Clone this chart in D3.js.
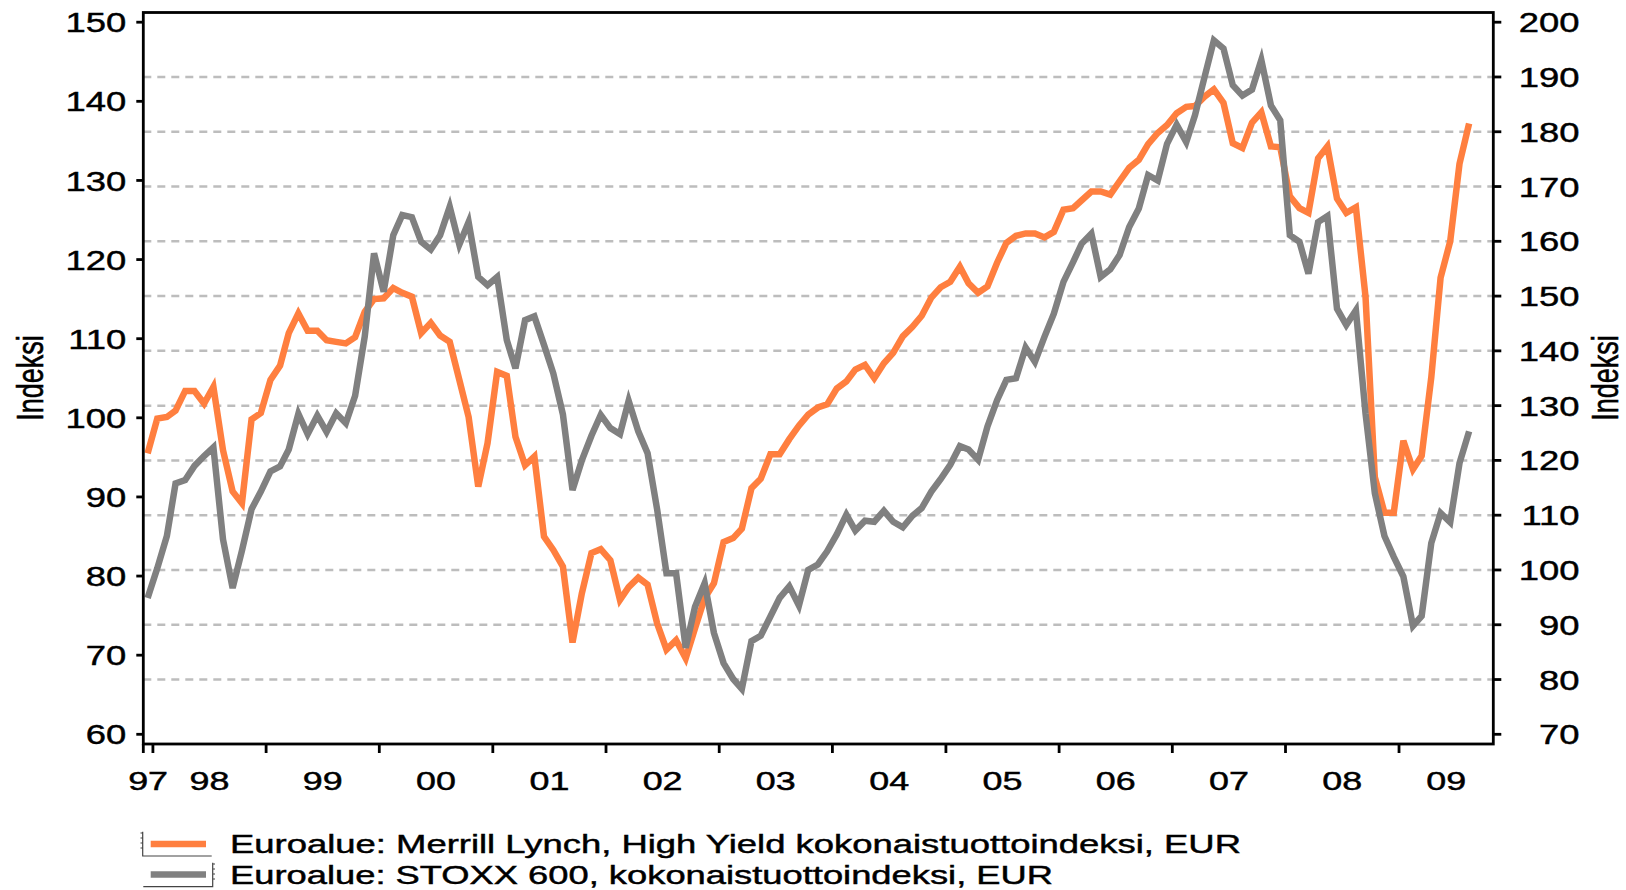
<!DOCTYPE html>
<html>
<head>
<meta charset="utf-8">
<style>
  body { margin: 0; background: #fff; }
  text { font-family: "Liberation Sans", Arial, sans-serif; fill: #000; stroke: #000; stroke-width: 0.45; }
  .grid line { stroke: #bdbdbd; stroke-width: 2.5; stroke-dasharray: 8,6; }
  .frame { fill: none; stroke: #000; stroke-width: 2.8; }
  .tick-mark { stroke: #000; stroke-width: 2.8; }
  .hy { fill: none; stroke: #ff7f3f; stroke-width: 6.5; }
  .stoxx { fill: none; stroke: #808080; stroke-width: 6.5; }
  .icon { stroke: #444; stroke-width: 1.2; fill: none; }
</style>
</head>
<body>
<script src="https://d3js.org/d3.v7.min.js"></script>
<div id="chart"></div>
<script>

// monthly data, first value = December 1997
var firstMonth = { year: 1997, month: 11 };

// Euroalue: Merrill Lynch High Yield (left axis)
var hyValues = [
  95.5, 99.9, 100.1, 100.9, 103.4, 103.4, 101.8, 103.9, 95.9, 90.7,
  89.2, 99.8, 100.6, 104.8, 106.6, 110.7, 113.2, 111, 111, 109.8,
  109.6, 109.4, 110.2, 113.4, 115, 115.1, 116.4, 115.8, 115.3, 110.7,
  112, 110.4, 109.6, 104.8, 100.1, 91.3, 96.8, 105.8, 105.3, 97.6,
  94, 95.1, 85, 83.3, 81.2, 71.6, 77.8, 82.9, 83.4, 82,
  77, 78.6, 79.8, 78.9, 74, 70.7, 71.9, 69.6, 73.4, 77.2,
  79.1, 84.3, 84.8, 86, 91.1, 92.3, 95.4, 95.4, 97.3, 99,
  100.4, 101.3, 101.7, 103.7, 104.6, 106.1, 106.7, 105, 106.9, 108.2,
  110.3, 111.5, 112.9, 115.2, 116.5, 117.2, 119.1, 117, 115.8, 116.6,
  119.6, 122.1, 123, 123.3, 123.3, 122.8, 123.5, 126.3, 126.5, 127.5,
  128.6, 128.6, 128.2, 129.9, 131.6, 132.6, 134.6, 136, 137, 138.5,
  139.3, 139.4, 140.6, 141.5, 139.8, 134.7, 134.1, 137.3, 138.6, 134.3,
  134.2, 128, 126.5, 125.9, 132.8, 134.3, 127.7, 125.9, 126.6, 115.3,
  92.5, 88, 88, 97.1, 93.5, 95.2, 105.1, 117.7, 122.3, 132.1,
  137.2
];

// Euroalue: STOXX 600 (right axis)
var stoxxValues = [
  94.9, 100.3, 106.2, 115.8, 116.4, 119, 120.8, 122.4, 105.6, 96.7,
  103.5, 111.1, 114.3, 118, 118.9, 122, 128.5, 124.8, 128.2, 125.2,
  128.6, 126.8, 131.8, 142.6, 157.8, 150.8, 161.1, 164.8, 164.4, 159.9,
  158.5, 161.1, 166.3, 159.4, 163.5, 153.5, 152, 153.5, 142, 136.8,
  145.6, 146.3, 141.1, 135.9, 128.4, 114.6, 120, 124.5, 128.3, 125.9,
  124.8, 130.9, 125.3, 121.3, 111, 99.4, 99.4, 85.8, 93.3, 97.6,
  88.5, 83, 80.1, 78.3, 87, 88, 91.5, 94.9, 97, 93.5,
  100, 101, 103.4, 106.5, 110.1, 107.2, 109, 108.8, 110.8, 108.8,
  107.8, 109.9, 111.3, 114.3, 116.6, 119.2, 122.6, 122, 120.1, 126.2,
  131, 134.7, 135, 140.6, 138, 142.6, 146.8, 152.6, 156.2, 159.6,
  161.4, 153.5, 154.9, 157.5, 162.6, 166, 172.1, 171.1, 177.8, 181.3,
  178.1, 183, 190, 196.7, 195.2, 188.5, 186.6, 187.7, 193.1, 184.8,
  182.1, 161.1, 159.9, 154.1, 163.5, 164.6, 147.7, 144.7, 147.4, 128.6,
  114, 106.2, 102.4, 98.8, 89.8, 91.6, 104.9, 110.4, 108.7, 119.5,
  125.3
];

var yearLabels = ["97", "98", "99", "00", "01", "02", "03", "04", "05", "06", "07", "08", "09"];
var leftTicks = [60, 70, 80, 90, 100, 110, 120, 130, 140, 150];
var rightTicks = [70, 80, 90, 100, 110, 120, 130, 140, 150, 160, 170, 180, 190, 200];
var gridValues = [80, 90, 100, 110, 120, 130, 140, 150, 160, 170, 180, 190];
var legendLabels = [
  "Euroalue: Merrill Lynch, High Yield kokonaistuottoindeksi, EUR",
  "Euroalue: STOXX 600, kokonaistuottoindeksi, EUR"
];
var axisTitle = "Indeksi";

var width = 1626, height = 890;
var plot = { left: 143.3, right: 1493.3, top: 12.5, bottom: 744 };

var svg = d3.select("#chart").append("svg")
    .attr("width", width)
    .attr("height", height);

// text in the picture is wider than normal Arial
function stretch(sel, k) {
  sel.each(function() {
    var w = this.getComputedTextLength();
    d3.select(this).attr("textLength", w * k).attr("lengthAdjust", "spacingAndGlyphs");
  });
}

function monthDate(i) {
  return new Date(firstMonth.year, firstMonth.month + i, 15);
}

var start = new Date(1997, 11, 1),
    end = new Date(2009, 10, 1);

var x = d3.scaleTime().domain([start, end]).range([plot.left, plot.right]);
var yLeft = d3.scaleLinear().domain([60, 150]).range([734.3, 22.2]);
var yRight = d3.scaleLinear().domain([70, 200]).range([734.3, 22.2]);

// dashed grid lines (on the right-axis values)
svg.append("g").attr("class", "grid")
  .selectAll("line")
  .data(gridValues)
  .enter().append("line")
  .attr("x1", plot.left).attr("x2", plot.right)
  .attr("y1", function(d) { return yRight(d); })
  .attr("y2", function(d) { return yRight(d); });

// series
var hyLine = d3.line()
    .x(function(d, i) { return x(monthDate(i)); })
    .y(function(d) { return yLeft(d); });
var stoxxLine = d3.line()
    .x(function(d, i) { return x(monthDate(i)); })
    .y(function(d) { return yRight(d); });

svg.append("path").datum(hyValues).attr("class", "hy").attr("d", hyLine);
svg.append("path").datum(stoxxValues).attr("class", "stoxx").attr("d", stoxxLine);

// frame
svg.append("rect").attr("class", "frame")
  .attr("x", plot.left).attr("y", plot.top)
  .attr("width", plot.right - plot.left)
  .attr("height", plot.bottom - plot.top);

// left axis
var gl = svg.append("g");
gl.selectAll("line").data(leftTicks).enter().append("line")
  .attr("class", "tick-mark")
  .attr("x1", plot.left - 7).attr("x2", plot.left)
  .attr("y1", function(d) { return yLeft(d); })
  .attr("y2", function(d) { return yLeft(d); });
gl.selectAll("text").data(leftTicks).enter().append("text")
  .attr("x", plot.left - 17)
  .attr("y", function(d) { return yLeft(d); })
  .attr("dy", "0.36em")
  .attr("text-anchor", "end")
  .style("font-size", "28px")
  .text(function(d) { return d; })
  .call(stretch, 1.3);

// right axis
var gr = svg.append("g");
gr.selectAll("line").data(rightTicks).enter().append("line")
  .attr("class", "tick-mark")
  .attr("x1", plot.right).attr("x2", plot.right + 8)
  .attr("y1", function(d) { return yRight(d); })
  .attr("y2", function(d) { return yRight(d); });
gr.selectAll("text").data(rightTicks).enter().append("text")
  .attr("x", 1579.5)
  .attr("y", function(d) { return yRight(d); })
  .attr("dy", "0.36em")
  .attr("text-anchor", "end")
  .style("font-size", "28px")
  .text(function(d) { return d; })
  .call(stretch, 1.3);

// bottom axis: ticks at year starts, labels centred in each year
var yearStarts = [start].concat(d3.timeYear.range(new Date(1998, 0, 1), end));
svg.append("g").selectAll("line").data(yearStarts).enter().append("line")
  .attr("class", "tick-mark")
  .attr("x1", function(d) { return x(d); })
  .attr("x2", function(d) { return x(d); })
  .attr("y1", plot.bottom).attr("y2", plot.bottom + 9);

svg.append("g").selectAll("text").data(yearLabels).enter().append("text")
  .attr("x", function(d, i) {
    var a = new Date(1997 + i, 0, 1), b = new Date(1998 + i, 0, 1);
    if (a < start) a = start;
    if (b > end) b = end;
    return (x(a) + x(b)) / 2;
  })
  .attr("y", 790)
  .attr("text-anchor", "middle")
  .style("font-size", "26px")
  .text(function(d) { return d; })
  .call(stretch, 1.38);

// axis titles
svg.append("text")
  .attr("transform", "translate(43,378) scale(1.35,1) rotate(-90)")
  .attr("text-anchor", "middle")
  .style("font-size", "27px")
  .text(axisTitle);
svg.append("text")
  .attr("transform", "translate(1618,378) scale(1.35,1) rotate(-90)")
  .attr("text-anchor", "middle")
  .style("font-size", "27px")
  .text(axisTitle);

// legend
var legendY = [844, 874.5];
var legendWidths = [1011, 823];
var legendClasses = ["hy", "stoxx"];
var lg = svg.append("g");
lg.selectAll("line.key").data(legendLabels).enter().append("line")
  .attr("class", function(d, i) { return legendClasses[i]; })
  .attr("x1", 150.7).attr("x2", 206)
  .attr("y1", function(d, i) { return legendY[i]; })
  .attr("y2", function(d, i) { return legendY[i]; })
  .style("stroke-width", 6.5);
lg.selectAll("text").data(legendLabels).enter().append("text")
  .attr("x", 230)
  .attr("y", function(d, i) { return legendY[i] + 9; })
  .attr("textLength", function(d, i) { return legendWidths[i]; })
  .attr("lengthAdjust", "spacingAndGlyphs")
  .style("font-size", "26px")
  .text(function(d) { return d; });

// small axis icons beside the legend keys
lg.append("path").attr("class", "icon")
  .attr("d", "M142.7,831.7 V856 H211.7 M140.5,833 H142.7 M140.5,838 H142.7 M140.5,843 H142.7 M140.5,848 H142.7");
lg.append("path").attr("class", "icon")
  .attr("d", "M212.7,862.7 V886.7 H143.3 M212.7,864 H215 M212.7,869 H215 M212.7,874 H215 M212.7,879 H215");

</script>
</body>
</html>
